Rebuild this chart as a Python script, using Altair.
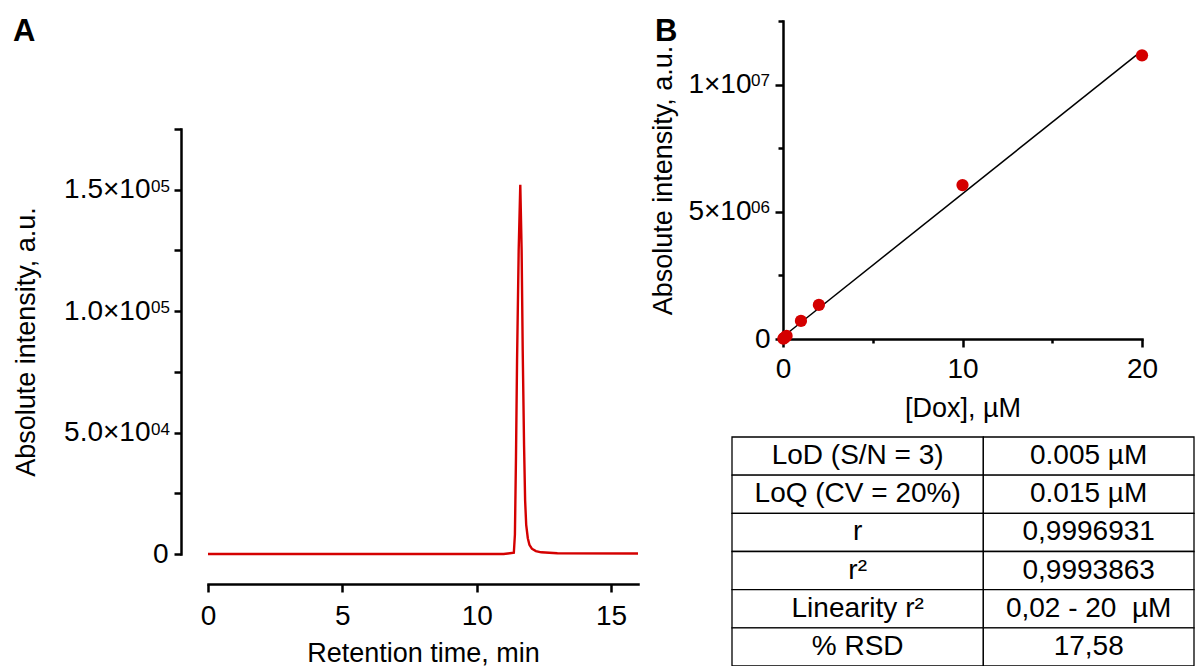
import altair as alt
import pandas as pd

FONT = "Liberation Sans"
RED = "#d40000"

# ---------------- Panel A: chromatogram ----------------
rt_min = [0.0, 11.0, 11.38, 11.42, 11.46, 11.50, 11.56, 11.62, 11.67, 11.71,
          11.76, 11.80, 11.84, 11.90, 11.96, 12.05, 12.20, 12.40, 13.00, 16.00]
intensity_a = [0, 0, 500, 8000, 40000, 80000, 125000, 152000, 125000, 84000,
               45000, 22000, 12000, 6500, 3800, 2200, 1200, 700, 300, 200]

a_x_ticks = [0, 5, 10, 15]
a_y_ticks = [0, 25000, 50000, 75000, 100000, 125000, 150000, 175000]
a_y_labels = ["0", "", "5.0×10", "", "1.0×10", "", "1.5×10", ""]
a_y_exponents = ["", "", "04", "", "05", "", "05", ""]

# ---------------- Panel B: calibration ----------------
dox_um = [0.02, 0.05, 0.1, 0.2, 1, 2, 10, 20]
intensity_b = [10000, 30000, 60000, 120000, 710000, 1340000, 6050000, 11150000]

b_x_ticks = [0, 5, 10, 15, 20]
b_x_labels = ["0", "", "10", "", "20"]
b_y_ticks = [0, 2500000, 5000000, 7500000, 10000000, 12500000]
b_y_labels = ["0", "", "5×10", "", "1×10", ""]
b_y_exponents = ["", "", "06", "", "07", ""]

# ---------------- Table ----------------
table_params = ["LoD (S/N = 3)", "LoQ (CV = 20%)", "r", "r²", "Linearity r²", "% RSD"]
table_values = ["0.005 µM", "0.015 µM", "0,9996931", "0,9993863", "0,02 - 20 \u00a0µM", "17,58"]

TABLE_SPLIT = 0.544  # fraction of table width taken by the first column


def label_expr(values, labels):
    parts = [f"datum.value == {v} ? '{l}'" for v, l in zip(values, labels) if l]
    return " : ".join(parts) + " : ''"


def major_test(values, labels):
    major = [v for v, l in zip(values, labels) if l]
    return f"indexof({major}, datum.value) >= 0"


def exp_frame(values, exps):
    return pd.DataFrame({"i": [v for v, e in zip(values, exps) if e],
                         "e": [e for e in exps if e]})


# ---- Chart A ----
df_a = pd.DataFrame({"t": rt_min, "i": intensity_a})
xa = alt.X("t:Q",
           scale=alt.Scale(domain=[0, 16], nice=False, zero=False),
           axis=alt.Axis(values=a_x_ticks, title="Retention time, min",
                         tickSize=8, labelPadding=10, titlePadding=10))
ya = alt.Y("i:Q",
           scale=alt.Scale(domain=[0, 175000], range=[533, 108], nice=False),
           axis=alt.Axis(values=a_y_ticks, labelExpr=label_expr(a_y_ticks, a_y_labels),
                         title="Absolute intensity, a.u.", offset=27, tickSize=7,
                         labelPadding={"condition": {"test": "datum.value == 0", "value": 6},
                                       "value": 24},
                         titlePadding=23))

line_a = alt.Chart(df_a).mark_line(color=RED, strokeWidth=2.4).encode(x=xa, y=ya)
exp_a = alt.Chart(exp_frame(a_y_ticks, a_y_exponents)).mark_text(
    align="right", baseline="alphabetic", fontSize=17, dy=2, color="black"
).encode(x=alt.value(-38), y=ya, text="e:N")
letter_a = alt.Chart(pd.DataFrame({"p": ["A"]})).mark_text(
    align="left", baseline="alphabetic", fontSize=31, fontWeight="bold", color="black"
).encode(x=alt.value(-195), y=alt.value(20), text="p:N")

chart_a = alt.layer(line_a, exp_a, letter_a).properties(width=430, height=563)

# ---- Chart B ----
df_b = pd.DataFrame({"c": dox_um, "i": intensity_b})
xb = alt.X("c:Q",
           scale=alt.Scale(domain=[0, 20], nice=False),
           axis=alt.Axis(values=b_x_ticks, labelExpr=label_expr(b_x_ticks, b_x_labels),
                         title="[Dox], µM", labelPadding=8, titlePadding=12,
                         tickSize={"condition": {"test": major_test(b_x_ticks, b_x_labels), "value": 8},
                                   "value": 4}))
yb = alt.Y("i:Q",
           scale=alt.Scale(domain=[0, 12500000], nice=False),
           axis=alt.Axis(values=b_y_ticks, labelExpr=label_expr(b_y_ticks, b_y_labels),
                         title="Absolute intensity, a.u.",
                         labelPadding={"condition": {"test": "datum.value == 0", "value": 5},
                                       "value": 24},
                         titlePadding=10,
                         tickSize={"condition": {"test": major_test(b_y_ticks, b_y_labels), "value": 8},
                                   "value": 5}))

base_b = alt.Chart(df_b)
fit_b = base_b.transform_regression("c", "i", extent=[0, 20]).mark_line(
    color="black", strokeWidth=1.5).encode(x=xb, y=yb)
pts_b = base_b.mark_circle(size=150, color=RED, opacity=1).encode(x=xb, y=yb)
exp_b = alt.Chart(exp_frame(b_y_ticks, b_y_exponents)).mark_text(
    align="right", baseline="alphabetic", fontSize=17, dy=1, color="black"
).encode(x=alt.value(-13), y=yb, text="e:N")
letter_b = alt.Chart(pd.DataFrame({"p": ["B"]})).mark_text(
    align="left", baseline="alphabetic", fontSize=31, fontWeight="bold", color="black"
).encode(x=alt.value(-128), y=alt.value(20), text="p:N")
plot_b = alt.layer(fit_b, pts_b, exp_b, letter_b)

rows = []
for k, (p, v) in enumerate(zip(table_params, table_values)):
    rows.append({"row": k, "x0": 0.0, "x1": TABLE_SPLIT, "xc": TABLE_SPLIT / 2, "text": p})
    rows.append({"row": k, "x0": TABLE_SPLIT, "x1": 1.0, "xc": (TABLE_SPLIT + 1) / 2, "text": v})
df_t = pd.DataFrame(rows)

tx_scale = alt.Scale(domain=[0, 1], range=[-51, 411], nice=False)
ty_scale = alt.Scale(range=[416, 645], paddingInner=0, paddingOuter=0)
cells = alt.Chart(df_t).mark_rect(fill="white", stroke="black", strokeWidth=1.3).encode(
    x=alt.X("x0:Q", scale=tx_scale, axis=None),
    x2="x1:Q",
    y=alt.Y("row:O", scale=ty_scale, axis=None),
)
texts = alt.Chart(df_t).mark_text(fontSize=28, font=FONT, color="black").encode(
    x=alt.X("xc:Q", scale=tx_scale, axis=None),
    y=alt.Y("row:O", scale=ty_scale, axis=None),
    text="text:N",
)
table = alt.layer(cells, texts)

chart_b = alt.layer(plot_b, table).resolve_scale(x="independent", y="independent").properties(
    width=359, height=318,
)

chart = alt.hconcat(chart_a, chart_b, spacing=6).properties(
    padding={"left": 12, "top": 7, "right": 0, "bottom": 0},
    background="white",
).configure(font=FONT).configure_view(
    stroke=None, fill="white"
).configure_axis(
    grid=False,
    domainColor="black", domainWidth=2.5, domainCap="square",
    tickColor="black", tickWidth=2.5,
    labelFont=FONT, labelFontSize=28, labelColor="black",
    labelFlush=False, labelOverlap=False,
    titleFont=FONT, titleFontSize=27, titleColor="black", titleFontWeight="normal",
)

chart.save("out.html", embed_options={"renderer": "svg", "actions": False})
